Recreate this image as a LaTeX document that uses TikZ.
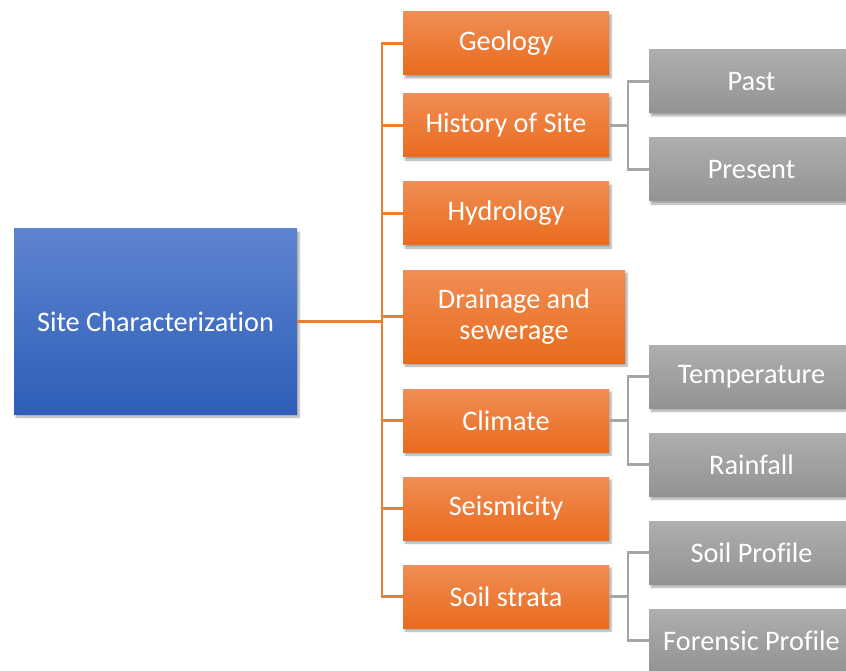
\documentclass[tikz,border=0pt]{standalone}
\usepackage{fontspec}
\setmainfont{Carlito}[Ligatures={NoCommon}]
\usetikzlibrary{shadows.blur}
\definecolor{orTop}{HTML}{F18D55}
\definecolor{orBot}{HTML}{E86B1C}
\definecolor{orLine}{HTML}{ED7D31}
\definecolor{blTop}{HTML}{5D84CF}
\definecolor{blBot}{HTML}{2E5EB9}
\definecolor{grTop}{HTML}{AEAEAE}
\definecolor{grBot}{HTML}{939393}
\definecolor{grLine}{HTML}{A5A5A5}
\begin{document}
\begin{tikzpicture}[x=1pt,y=-1pt,
  box/.style={rectangle, inner sep=0pt, text=white, font=\fontsize{28.3}{31}\selectfont, align=center,
    blur shadow={shadow xshift=2pt,shadow yshift=-3pt,shadow blur steps=6,shadow opacity=35}},
  mainbox/.style={box, minimum width=283pt, minimum height=185pt, top color=blTop, bottom color=blBot},
  orbox/.style={box, minimum width=206pt, minimum height=63pt, top color=orTop, bottom color=orBot},
  grbox/.style={box, minimum width=205pt, minimum height=63pt, top color=grTop, bottom color=grBot},
  oline/.style={draw=orLine, line width=2.5pt},
  gline/.style={draw=grLine, line width=2.5pt}]
\useasboundingbox (0,0) rectangle (846,671);
\clip (0,0) rectangle (846,671);
\node[mainbox] (main) at (155.5,321.5) {Site Characterization};
\node[orbox] (geo) at (506,43.5) {Geology};
\node[orbox] (hist) at (506,125.5) {History of Site};
\node[orbox] (hyd) at (506,213.5) {Hydrology};
\node[orbox, minimum width=222pt, minimum height=93pt] (drain) at (514,316.5) {Drainage and\\sewerage};
\node[orbox] (clim) at (506,420.5) {Climate};
\node[orbox] (seis) at (506,508.5) {Seismicity};
\node[orbox] (soil) at (506,596.5) {Soil strata};
\node[grbox] (past) at (751.5,81.5) {Past};
\node[grbox] (pres) at (751.5,169.5) {Present};
\node[grbox] (temp) at (751.5,376.5) {Temperature};
\node[grbox] (rain) at (751.5,464.5) {Rainfall};
\node[grbox] (sprof) at (751.5,552.5) {Soil Profile};
\node[grbox] (fprof) at (751.5,640.5) {Forensic Profile};
% orange tree
\coordinate (tk) at (382,321.5);
\draw[oline] (main.east) -- (tk);
\draw[oline] (geo.west) -- (geo.west -| tk) -- (soil.west -| tk) -- (soil.west);
\foreach \n in {hist,hyd,drain,clim,seis}
  \draw[oline] (\n.west) -- (\n.west -| tk);
% gray trees
\path (past.west) ++(-21,0) coordinate (pj);
\draw[gline] (past.west) -- (pj) |- (pres.west);
\draw[gline] (hist.east) -- (hist.east -| pj);
\draw[gline] (temp.west) -- (temp.west -| pj) |- (rain.west);
\draw[gline] (clim.east) -- (clim.east -| pj);
\draw[gline] (sprof.west) -- (sprof.west -| pj) |- (fprof.west);
\draw[gline] (soil.east) -- (soil.east -| pj);
\end{tikzpicture}
\end{document}
